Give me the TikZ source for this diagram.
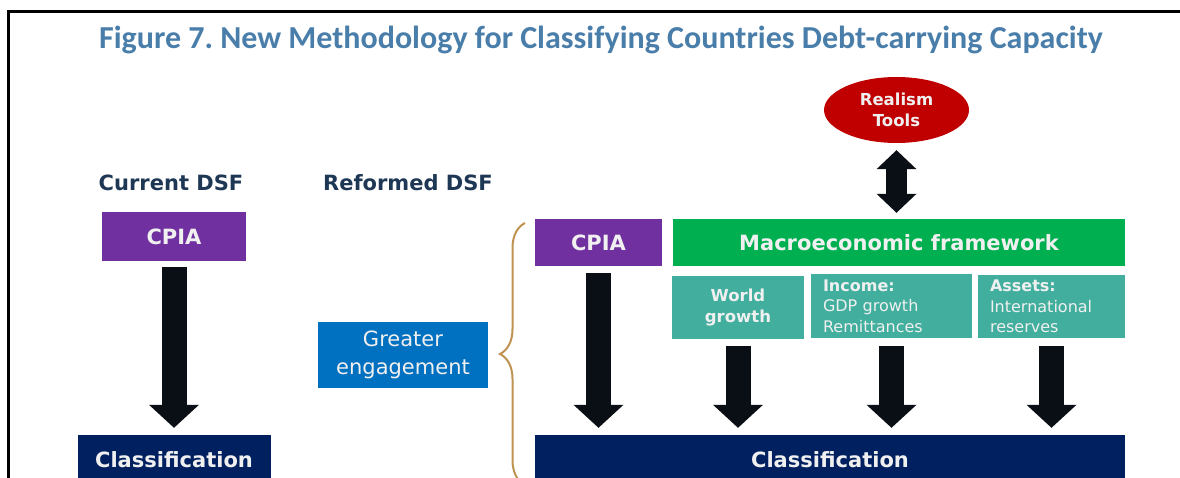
\documentclass[tikz,border=0pt]{standalone}
\usepackage{fontspec}
\setmainfont{DejaVu Sans}
\newfontfamily\titlefont{Carlito}
\usetikzlibrary{shapes.geometric,arrows.meta,positioning,calc,decorations.pathreplacing}
\definecolor{titleblue}{RGB}{74,126,170}
\definecolor{headnavy}{RGB}{30,55,85}
\definecolor{cpiapurple}{RGB}{112,48,160}
\definecolor{macrogreen}{RGB}{0,176,80}
\definecolor{subteal}{RGB}{66,174,158}
\definecolor{classnavy}{RGB}{0,32,96}
\definecolor{engageblue}{RGB}{0,112,192}
\definecolor{realismred}{RGB}{192,0,0}
\definecolor{arrowblack}{RGB}{10,15,22}
\definecolor{bracetan}{RGB}{192,146,82}
\definecolor{boxtext}{RGB}{240,240,240}
\tikzstyle{heading} = [inner sep=0pt, text=headnavy, font=\bfseries\fontsize{21}{25}\selectfont]
\tikzstyle{block} = [rectangle, inner sep=0pt, text=boxtext, align=center, font=\bfseries\fontsize{21}{25}\selectfont]
\tikzstyle{subblock} = [rectangle, inner sep=0pt, fill=subteal, text=boxtext, font=\fontsize{16}{20.5}\selectfont]
\tikzstyle{fat} = [draw=arrowblack, line width=25pt, -{Triangle[width=50pt,length=23pt,line width=0pt]}]
\tikzstyle{fatboth} = [draw=arrowblack, line width=21pt, {Triangle[width=40pt,length=19pt,line width=0pt]}-{Triangle[width=40pt,length=19pt,line width=0pt]}]
\tikzstyle{bracket} = [draw=bracetan, line width=2pt, decorate, decoration={brace, amplitude=25pt}]

\begin{document}
\frenchspacing
\begin{tikzpicture}[x=1pt, y=-1pt]
    \useasboundingbox (0,0) rectangle (1180,478);
    \draw[line width=3pt] (8.5,478) |- (1180,12);

    \node[inner sep=0pt, text=titleblue, font=\titlefont\bfseries\fontsize{32}{38}\selectfont] (title) at (601,40) {Figure 7. New Methodology for Classifying Countries Debt-carrying Capacity};
    \node[heading] (curdsf) at (171,183) {Current DSF};
    \node[heading] (refdsf) at (408,183) {Reformed DSF};

    \node[block, fill=cpiapurple, minimum width=144pt, minimum height=49pt] (cpiaL) at (174,236.5) {CPIA};
    \node[block, fill=classnavy, minimum width=193pt, minimum height=50pt] (classL) at (174,460) {Classification};

    \node[block, fill=engageblue, minimum width=170pt, minimum height=66pt, font=\fontsize{21}{28}\selectfont] (engage) at (403,355) {Greater\\engagement};

    \node[ellipse, inner sep=0pt, fill=realismred, text=boxtext, align=center, minimum width=145pt, minimum height=66pt, font=\bfseries\fontsize{16.5}{21}\selectfont] (realism) at (896.5,110) {Realism\\Tools};
    \node[block, fill=cpiapurple, minimum width=127pt, minimum height=47pt] (cpiaR) at (598.5,242.5) {CPIA};
    \node[block, fill=macrogreen, minimum width=452pt, minimum height=47pt] (macro) at (899,242.5) {Macroeconomic framework};
    \node[subblock, align=center, minimum width=132pt, minimum height=63pt, font=\bfseries\fontsize{16.5}{21}\selectfont] (world) at (738,307.5) {World\\growth};
    \node[subblock, align=left, text width=137pt, inner xsep=12pt, minimum height=64pt] (income) at (891.5,306) {\textbf{Income:}\\GDP growth\\Remittances};
    \node[subblock, align=left, text width=123pt, inner xsep=12pt, minimum height=63pt] (assets) at (1051.5,306.5) {\textbf{Assets:}\\International\\reserves};
    \node[block, fill=classnavy, minimum width=590pt, minimum height=50pt] (classR) at (830,460) {Classification};

    \coordinate (braceBot) at (525,485);
    \coordinate (braceTop) at (525,223);
    \draw[bracket] (braceBot) -- (braceTop);

    \draw[fat, shorten <=6pt, shorten >=7pt] (cpiaL) -- (classL);
    \draw[fat, shorten <=7pt, shorten >=7pt] (cpiaR.south) -- (cpiaR.south |- classR.north);
    \draw[fat, shorten <=7pt, shorten >=7pt] (world.south) -- (world.south |- classR.north);
    \draw[fat, shorten <=8pt, shorten >=7pt] (income.south) -- (income.south |- classR.north);
    \draw[fat, shorten <=8pt, shorten >=7pt] (assets.south) -- (assets.south |- classR.north);
    \draw[fatboth, shorten <=7pt, shorten >=6pt] (realism.south) -- (realism.south |- macro.north);
\end{tikzpicture}
\end{document}
